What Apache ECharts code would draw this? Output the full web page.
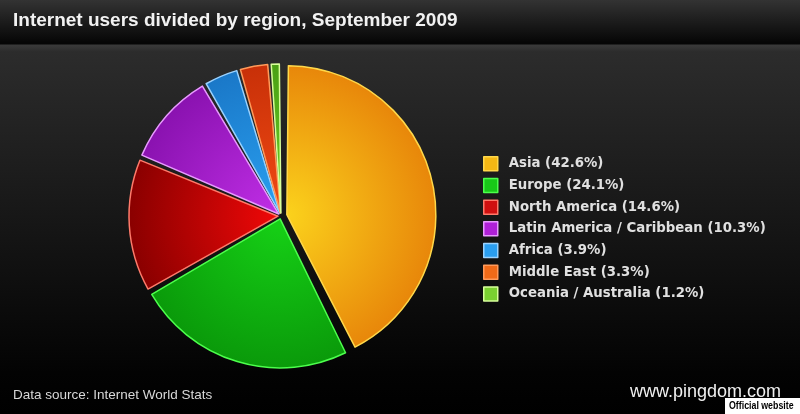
<!DOCTYPE html>
<html><head><meta charset="utf-8">
<script src="https://cdn.jsdelivr.net/npm/echarts@6/dist/echarts.min.js"></script>
<style>html,body{margin:0;padding:0;background:#000;}#c{width:800px;height:414px;}</style>
</head><body><div id="c"></div>
<script>
const regions = ['Asia','Europe','North America','Latin America / Caribbean','Africa','Middle East','Oceania / Australia'];
const shares = [42.6, 24.1, 14.6, 10.3, 3.9, 3.3, 1.2];
const innerColors = ['#fbd21c','#16d116','#f00808','#c02ee6','#2aa0f0','#f04a14','#6cd026'];
const outerColors = ['#e8870a','#0a9a0a','#8a0000','#8a12b0','#1a78c8','#c83008','#4aa014'];
const edgeColors = ['#ffd84a','#4cff4c','#ff7a6a','#e89aff','#9ad2ff','#ff9a5a','#d8ff9a'];
const legendColors = ['#f5b814','#18c818','#d01010','#b020d8','#2a9ef0','#f06a18','#7ad030'];
const explode = [6, 3, 3, 3, 3, 3, 3];

const cx = 281, cy = 216, R = 149;
const chart = echarts.init(document.getElementById('c'));
const labelOf = (i) => regions[i] + ' (' + shares[i].toFixed(1) + '%)';
const total = shares.reduce((a, b) => a + b, 0);

// one pie series per slice (others transparent), each shifted outward along its bisector
const series = [];
let cum = 0;
shares.forEach((v, k) => {
  const mid = (90 - (cum + v / 2) / total * 360) * Math.PI / 180;
  cum += v;
  const ox = cx + explode[k] * Math.cos(mid), oy = cy - explode[k] * Math.sin(mid);
  series.push({
    type: 'pie', center: [ox, oy], radius: [0, R], startAngle: 90, clockwise: true,
    padAngle: 1.2,
    label: {show:false}, labelLine:{show:false}, emphasis:{disabled:true}, silent: true,
    legendHoverLink: false,
    data: regions.map((n, i) => ({
      name: labelOf(i), value: shares[i],
      itemStyle: i === k ? {
        color: {type:'radial', x: ox, y: oy, r: R, global: true,
          colorStops: [{offset:0, color: innerColors[i]}, {offset:1, color: outerColors[i]}]},
        borderColor: edgeColors[i], borderWidth: 1.5
      } : {color: 'rgba(0,0,0,0)', borderWidth: 0}
    }))
  });
});

chart.setOption({
  animation: false,
  backgroundColor: {type:'linear', x:0, y:0, x2:0, y2:1, colorStops:[
    {offset:0, color:'#333333'}, {offset:0.105, color:'#050505'}, {offset:0.11, color:'#3a3a3a'},
    {offset:0.125, color:'#2c2c2c'}, {offset:0.9, color:'#030303'}, {offset:1, color:'#000'}]},
  graphic: [
    {type:'text', left: 13, top: 11, style:{text:'Internet users divided by region, September 2009', fill:'#f2f2f2', font:'bold 19px "Liberation Sans", Arial, sans-serif'}},
    {type:'text', left: 13, top: 388, style:{text:'Data source: Internet World Stats', fill:'#d8d8d8', font:'13.5px "Liberation Sans", Arial, sans-serif'}},
    {type:'text', left: 630, top: 383, style:{text:'www.pingdom.com', fill:'#f0f0f0', font:'18px "Liberation Sans", Arial, sans-serif'}},
    {type:'rect', left: 725, top: 398, shape:{width:75, height:16}, style:{fill:'#ffffff'}},
    {type:'text', x: 729, y: 400, scaleX: 0.8, style:{text:'Official website', fill:'#000', font:'bold 11px "Liberation Sans", Arial, sans-serif'}}
  ],
  legend: {
    orient: 'vertical', left: 478, top: 151, itemWidth: 14, itemHeight: 14, itemGap: 6.2,
    icon: 'rect', selectedMode: false,
    textStyle: {color:'#e0e0e0', fontSize: 13.3, lineHeight: 14, fontWeight: 'bold', fontFamily:'"DejaVu Sans", Verdana, sans-serif', padding:[0,0,0,6]},
    data: regions.map((n,i) => ({name: labelOf(i), itemStyle:{color: legendColors[i], borderColor: edgeColors[i], borderWidth: 1.5}}))
  },
  series: series
});
</script></body></html>
